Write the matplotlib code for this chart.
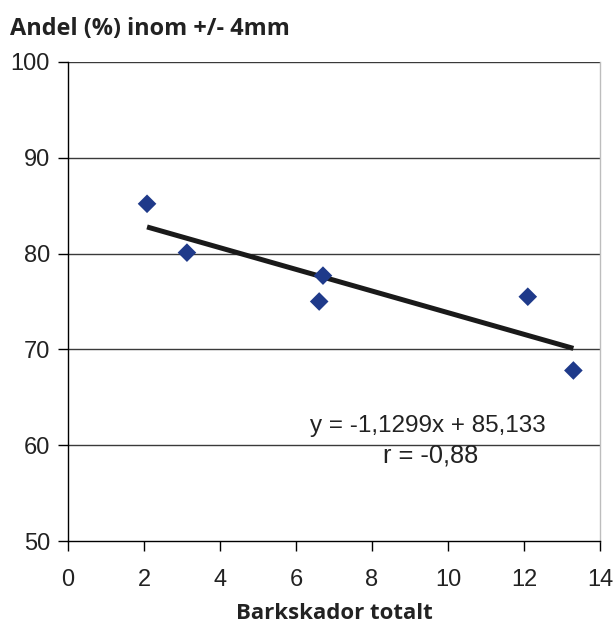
import matplotlib
matplotlib.use("Agg")
import matplotlib.pyplot as plt
import numpy as np

# Bark damage (x) vs share within +/- 4 mm (y)
barkskador = [2.08, 3.13, 6.61, 6.71, 12.1, 13.3]
andel = [85.2, 80.1, 75.0, 77.7, 75.5, 67.8]

# Linear trend line coefficients
slope = -1.1299
intercept = 85.133
r_value = -0.88

x_ticks = [0, 2, 4, 6, 8, 10, 12, 14]
y_ticks = [50, 60, 70, 80, 90, 100]

fig = plt.figure(figsize=(6.16, 6.25), dpi=100)
ax = fig.add_axes([0.1104, 0.1344, 0.8636, 0.7664])

ax.set_xlim(0, 14)
ax.set_ylim(50, 100)

for yv in y_ticks[1:]:
    ax.axhline(yv, color="#3a3a3a", lw=1.0, zorder=1)

tx = np.array([min(barkskador), max(barkskador)])
ax.plot(tx, slope * tx + intercept, color="#1a1a1a", lw=3.6, zorder=2,
        solid_capstyle="butt")

ax.scatter(barkskador, andel, marker="D", s=90, color="#1f3a8a",
           edgecolors="none", zorder=3)

ax.spines["top"].set_visible(False)
ax.spines["right"].set_color("#bdbdbd")
ax.spines["left"].set_color("black")
ax.spines["bottom"].set_color("black")
for s in ("left", "bottom", "right"):
    ax.spines[s].set_linewidth(1.0)

ax.set_xticks(x_ticks)
ax.set_yticks(y_ticks)
ax.tick_params(direction="out", length=7, width=1.0, color="black",
               labelsize=17)
ax.tick_params(axis="x", pad=13)
ax.tick_params(axis="y", pad=6)
for lab in ax.get_xticklabels() + ax.get_yticklabels():
    lab.set_fontfamily("Liberation Sans")
    lab.set_color("#222222")

ax.text(9.47, 62.0, "y = -1,1299x + 85,133", fontsize=17.5,
        family="Liberation Sans", ha="center", va="center", color="#222222")
ax.text(9.55, 58.9, f"r = {r_value:.2f}".replace(".", ","), fontsize=18.3,
        family="Liberation Sans", ha="center", va="center", color="#222222")

fig.text(0.016, 0.953, "Andel (%) inom +/- 4mm", fontsize=16.9,
         fontweight="bold", family="Open Sans", ha="left", va="center",
         color="#222222")
ax.set_xlabel("Barkskador totalt", fontsize=16, fontweight="bold",
              family="Open Sans", color="#222222", labelpad=9)

fig.savefig("out.png", dpi=100)
